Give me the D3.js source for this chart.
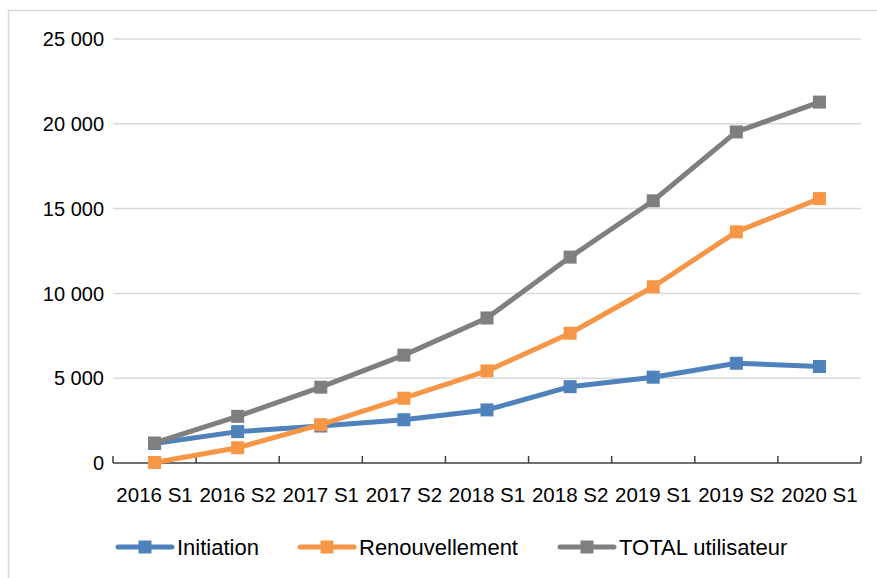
<!DOCTYPE html>
<html>
<head>
<meta charset="utf-8">
<script src="https://cdnjs.cloudflare.com/ajax/libs/d3/7.8.5/d3.min.js"></script>
<style>
  body { margin: 0; background: #fff; }
  text { font-family: "Liberation Sans", Arial, sans-serif; }
</style>
</head>
<body>
<div id="chart"></div>
<script>
// data
var categories = ['2016 S1', '2016 S2', '2017 S1', '2017 S2', '2018 S1', '2018 S2', '2019 S1', '2019 S2', '2020 S1'];
var initiation = [1150, 1850, 2180, 2550, 3130, 4500, 5060, 5880, 5690];
var renouvellement = [30, 900, 2260, 3820, 5430, 7650, 10390, 13630, 15590];
var totalUtilisateur = [1180, 2750, 4470, 6360, 8550, 12140, 15460, 19520, 21280];
var yTicks = [0, 5000, 10000, 15000, 20000, 25000];

var series = [
    {name: 'Initiation', values: initiation, color: '#4f81bd'},
    {name: 'Renouvellement', values: renouvellement, color: '#f79646'},
    {name: 'TOTAL utilisateur', values: totalUtilisateur, color: '#7f7f7f'}
];

var width = 877, height = 578;
var svg = d3.select('#chart').append('svg')
    .attr('width', width)
    .attr('height', height);

// chart area border (only top/left visible)
svg.append('rect')
    .attr('x', 8.5)
    .attr('y', 10.5)
    .attr('width', 900)
    .attr('height', 600)
    .attr('fill', 'none')
    .attr('stroke', '#d9d9d9')
    .attr('stroke-width', 1.5);

var plotLeft = 113, plotRight = 861, plotTop = 39, plotBottom = 463;

var x = d3.scaleBand().domain(categories).range([plotLeft, plotRight]);
var y = d3.scaleLinear().domain([0, 25000]).range([plotBottom, plotTop]);

var fmt = d3.formatLocale({decimal: ',', thousands: '\u00a0', grouping: [3], currency: ['', '']}).format(',d');

// gridlines
svg.append('g').selectAll('line')
    .data(yTicks.filter(function(d){ return d > 0; }))
    .enter().append('line')
    .attr('x1', plotLeft)
    .attr('x2', plotRight)
    .attr('y1', function(d){ return y(d); })
    .attr('y2', function(d){ return y(d); })
    .attr('stroke', '#d9d9d9')
    .attr('stroke-width', 1.5);

// y labels
svg.append('g').selectAll('text')
    .data(yTicks)
    .enter().append('text')
    .attr('x', 104)
    .attr('y', function(d){ return y(d); })
    .attr('dy', '0.36em')
    .attr('text-anchor', 'end')
    .attr('font-size', '20px')
    .attr('fill', '#000')
    .text(function(d){ return fmt(d); });

// x axis line + ticks (inside)
svg.append('line')
    .attr('x1', plotLeft).attr('x2', plotRight)
    .attr('y1', plotBottom).attr('y2', plotBottom)
    .attr('stroke', '#404040')
    .attr('stroke-width', 1.5);

var bounds = categories.map(function(c){ return x(c); }).concat([plotRight]);
svg.append('g').selectAll('line')
    .data(bounds)
    .enter().append('line')
    .attr('x1', function(d){ return d; })
    .attr('x2', function(d){ return d; })
    .attr('y1', plotBottom - 7)
    .attr('y2', plotBottom)
    .attr('stroke', '#404040')
    .attr('stroke-width', 1.5);

// x labels
svg.append('g').selectAll('text')
    .data(categories)
    .enter().append('text')
    .attr('x', function(d){ return x(d) + x.bandwidth() / 2; })
    .attr('y', 502)
    .attr('text-anchor', 'middle')
    .attr('font-size', '20.5px')
    .attr('fill', '#000')
    .text(function(d){ return d; });

// lines
var line = d3.line()
    .x(function(d, i){ return x(categories[i]) + x.bandwidth() / 2; })
    .y(function(d){ return y(d); });

var ms = 13;
series.forEach(function(s){
    svg.append('path')
        .datum(s.values)
        .attr('d', line)
        .attr('fill', 'none')
        .attr('stroke', s.color)
        .attr('stroke-width', 5)
        .attr('stroke-linejoin', 'round')
        .attr('stroke-linecap', 'round');

    svg.append('g').selectAll('rect')
        .data(s.values)
        .enter().append('rect')
        .attr('x', function(d, i){ return x(categories[i]) + x.bandwidth() / 2 - ms / 2; })
        .attr('y', function(d){ return y(d) - ms / 2; })
        .attr('width', ms)
        .attr('height', ms)
        .attr('fill', s.color);
});

// legend
var legendX = [118, 300, 560];
var legendY = 547;
series.forEach(function(s, i){
    var g = svg.append('g').attr('transform', 'translate(' + legendX[i] + ',' + legendY + ')');
    g.append('line')
        .attr('x1', 0).attr('x2', 54)
        .attr('y1', 0).attr('y2', 0)
        .attr('stroke', s.color)
        .attr('stroke-width', 5)
        .attr('stroke-linecap', 'round');
    g.append('rect')
        .attr('x', 27 - ms / 2)
        .attr('y', -ms / 2)
        .attr('width', ms)
        .attr('height', ms)
        .attr('fill', s.color);
    g.append('text')
        .attr('x', 59)
        .attr('y', 0)
        .attr('dy', '0.36em')
        .attr('font-size', '22px')
        .attr('fill', '#000')
        .text(s.name);
});
</script>
</body>
</html>
